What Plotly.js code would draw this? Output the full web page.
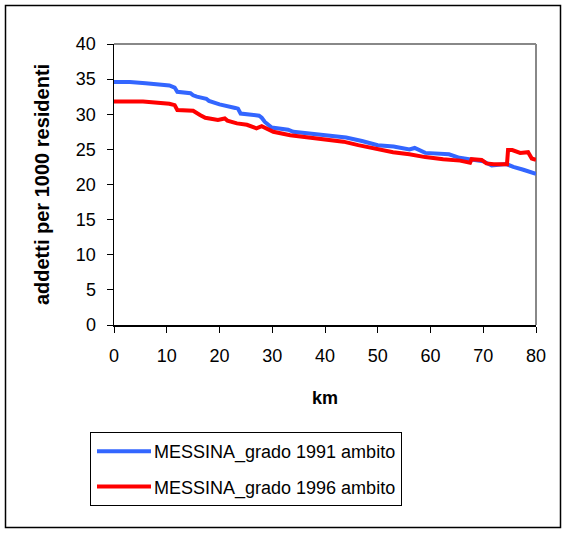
<!DOCTYPE html>
<html>
<head>
<meta charset="utf-8">
<script src="https://cdn.plot.ly/plotly-3.0.1.min.js"></script>
<style>html,body{margin:0;padding:0;background:#fff;}#chart{width:566px;height:533px;}</style>
</head>
<body>
<div id="chart"></div>
<script>
const seriesNames = ["MESSINA_grado 1991 ambito", "MESSINA_grado 1996 ambito"];

const km1991 = [0,3,6,10.5,11.5,12,14.5,15,15.7,17.5,18,20,23,23.5,24,27.5,28,28.6,29.9,33,34,37,41,44,47,50,53,56,57,59,63.5,65.5,70,71.6,74.4,75.7,77.6,80];
const val1991 = [34.6,34.6,34.4,34.1,33.8,33.2,33.0,32.7,32.5,32.2,31.9,31.4,30.9,30.8,30.1,29.8,29.5,28.9,28.1,27.8,27.5,27.3,26.9,26.7,26.2,25.6,25.4,25.0,25.2,24.5,24.3,23.8,23.3,22.7,22.9,22.5,22.1,21.5];

const km1996 = [0,5.5,10.5,11.5,12,15,16.3,17.3,19.7,21,21.5,23.3,25.2,27,28,30.2,33.4,37,40.3,43.5,46.3,49.8,52.9,56,59,62.4,65.6,67.5,67.8,69.7,70.6,72,74.5,74.7,75.5,77,78.5,79.2,80];
const val1996 = [31.8,31.8,31.5,31.3,30.6,30.5,29.9,29.5,29.2,29.4,29.1,28.7,28.5,28.0,28.3,27.5,27.0,26.7,26.4,26.1,25.6,25.0,24.6,24.3,23.9,23.6,23.4,23.1,23.6,23.5,23.0,22.9,22.9,24.9,24.9,24.5,24.6,23.7,23.5];

const xTitle = "km";
const yTitle = "addetti per 1000 residenti";

const W = 566, H = 533;
const L = 114, R = 30, T = 44, B = 208;
const pw = W - L - R, ph = H - T - B;
const px = v => (v - L) / pw;
const py = v => (H - B - v) / ph;

const traces = [
  {x: km1991, y: val1991, name: seriesNames[0], mode: 'lines', legendgroup: 'a',
   line: {color: '#3366FF', width: 4}},
  {x: km1996, y: val1996, name: seriesNames[1], mode: 'lines', legendgroup: 'b',
   line: {color: '#FF0000', width: 4}}
];

const font = {family: 'Arial, "Liberation Sans", sans-serif', size: 18, color: '#000'};

const layout = {
  width: W, height: H,
  margin: {l: L, r: R, t: T, b: B, pad: 0},
  paper_bgcolor: '#fff', plot_bgcolor: '#fff',
  font: font,
  showlegend: true,
  legend: {
    x: px(90), y: py(432), xanchor: 'left', yanchor: 'top',
    bordercolor: '#000', borderwidth: 1, bgcolor: '#fff',
    font: {family: font.family, size: 18, color: '#000'},
    tracegroupgap: 9, itemwidth: 53
  },
  xaxis: {
    range: [0, 80], dtick: 10, tick0: 0,
    ticks: 'outside', ticklen: 6, tickcolor: '#000', tickwidth: 1,
    ticklabelstandoff: 8,
    showline: true, linecolor: '#000', linewidth: 1.5,
    showgrid: false, zeroline: false, fixedrange: true,
    tickfont: {size: 18},
    title: {text: xTitle, font: {size: 18, weight: 'bold'}, standoff: 26}
  },
  yaxis: {
    range: [0, 40], dtick: 5, tick0: 0,
    ticks: 'outside', ticklen: 6, tickcolor: '#000', tickwidth: 1,
    ticklabelstandoff: 7,
    showline: true, linecolor: '#000', linewidth: 1.5,
    showgrid: false, zeroline: false, fixedrange: true,
    tickfont: {size: 18},
    title: {text: yTitle, font: {size: 20, weight: 'bold'}, standoff: 21}
  },
  shapes: [
    {type: 'line', xref: 'paper', yref: 'paper', x0: 0, x1: 1, y0: 1, y1: 1,
     line: {color: '#888', width: 2}, layer: 'below'},
    {type: 'line', xref: 'paper', yref: 'paper', x0: 1, x1: 1, y0: 0, y1: 1,
     line: {color: '#888', width: 2}, layer: 'below'},
    {type: 'rect', xref: 'paper', yref: 'paper', x0: px(5.5), x1: px(560.5), y0: py(5.5), y1: py(527.5),
     line: {color: '#000', width: 1.5}, fillcolor: 'rgba(0,0,0,0)'}
  ]
};

Plotly.newPlot('chart', traces, layout, {staticPlot: true, displayModeBar: false}).then(gd => {
  gd.querySelectorAll('.legend .legendlines path').forEach(p => p.setAttribute('d', 'M6,0h54'));
});
</script>
</body>
</html>
